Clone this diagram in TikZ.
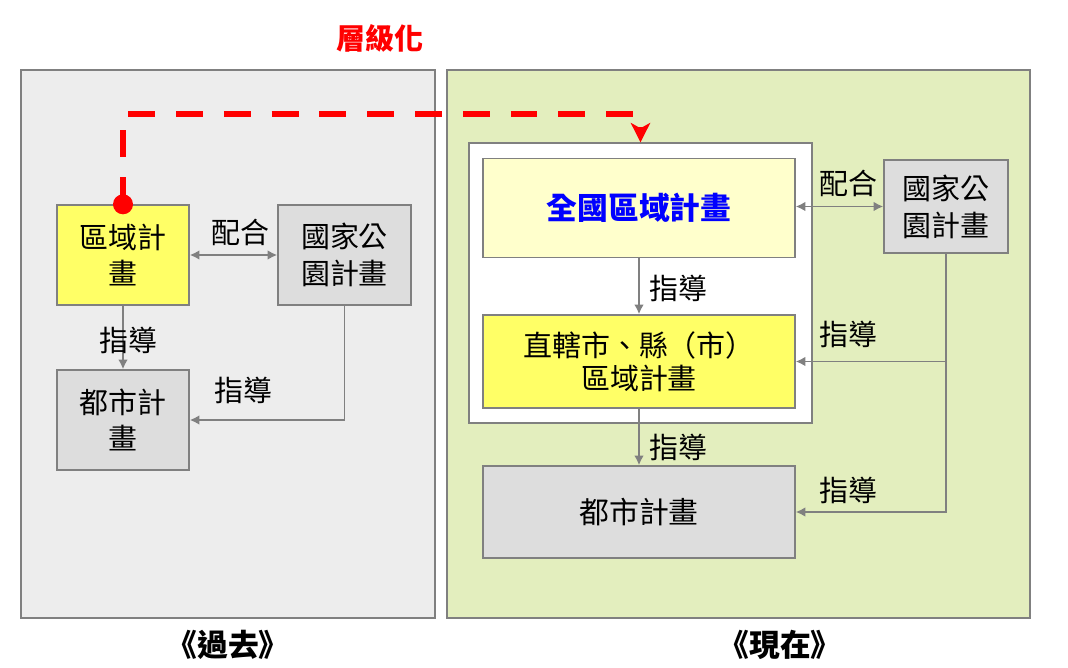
\documentclass[tikz,border=0pt]{standalone}
\usepackage{fontspec}
\setmainfont{Noto Sans CJK TC}
\usetikzlibrary{arrows.meta}
\definecolor{pastgrey}{HTML}{EDEDED}
\definecolor{nowgreen}{HTML}{E3EEBE}
\definecolor{boxgrey}{HTML}{DDDDDD}
\definecolor{boxyellow}{HTML}{FFFF66}
\definecolor{paleyellow}{HTML}{FFFFCC}
\definecolor{linegrey}{HTML}{808080}
\definecolor{hotred}{HTML}{FF0000}
\definecolor{planblue}{HTML}{0000FF}
\tikzset{
  >={Latex[length=5.5pt,width=5.5pt]},
  panel/.style={draw=linegrey, line width=0.8pt, inner sep=0pt},
  plan/.style={draw=linegrey, line width=0.8pt, inner sep=0pt, align=center,
    font=\fontsize{16.5}{21}\selectfont},
  tag/.style={font=\fontsize{16.5}{18}\selectfont, inner sep=1pt},
  era/.style={font=\bfseries\fontsize{17.5}{20}\selectfont},
  link/.style={draw=linegrey, line width=1.1pt},
  hopline/.style={draw=hotred, line width=3.4pt, dash pattern=on 15.3pt off 11.9pt,
    -{Stealth[length=11pt,width=11pt,inset=3pt]}}
}

\begin{document}
\begin{tikzpicture}[x=0.02cm, y=-0.02cm]
  \useasboundingbox (0,0) rectangle (1068,668);
  \node[panel, fill=pastgrey, minimum width=8.28cm, minimum height=10.96cm]
    (past) at (228,344) {};
  \node[panel, fill=nowgreen, minimum width=11.66cm, minimum height=10.96cm]
    (now) at (738.5,344) {};
  \node[panel, fill=white, minimum width=6.86cm, minimum height=5.6cm]
    (frame) at (640.5,283) {};
  \node[text=hotred, font=\bfseries\fontsize{16.5}{20}\selectfont]
    (title) at (380,38) {層級化};

  \node[plan, fill=boxyellow, minimum width=2.64cm, minimum height=2cm]
    (regionL) at (123,255) {區域計\\畫};
  \node[plan, fill=boxgrey, minimum width=2.66cm, minimum height=2cm]
    (parkL) at (344.5,255) {國家公\\園計畫};
  \node[plan, fill=boxgrey, minimum width=2.64cm, minimum height=2cm]
    (cityL) at (123,420) {都市計\\畫};

  \node[plan, fill=paleyellow, minimum width=6.24cm, minimum height=1.98cm,
    text=planblue, font=\bfseries\fontsize{17.5}{20}\selectfont]
    (national) at (639,208) {全國區域計畫};
  \node[plan, fill=boxyellow, minimum width=6.24cm, minimum height=1.86cm,
    font=\fontsize{16.5}{19}\selectfont]
    (county) at (639,361.5) {直轄市、縣（市）\\區域計畫};
  \node[plan, fill=boxgrey, minimum width=6.24cm, minimum height=1.84cm,
    font=\fontsize{17}{20}\selectfont]
    (cityR) at (639,512) {都市計畫};
  \node[plan, fill=boxgrey, minimum width=2.48cm, minimum height=1.86cm]
    (parkR) at (946,206.5) {國家公\\園計畫};

  \draw[link, <->] (regionL) -- (parkL);
  \draw[link, ->] (regionL) -- (cityL);
  \draw[link, ->] (parkL.south) |- (cityL.east);
  \draw[link, <->] (parkR.west -| national.east) -- (parkR.west);
  \draw[link, ->] (national) -- (county);
  \draw[link, ->] (county) -- (cityR);
  \draw[link, ->] (parkR.south) |- (cityR.east);
  \draw[link, ->] (parkR.south |- county.east) -- (county.east);

  \node[tag] (tieL) at (240,232) {配合};
  \node[tag] (guideL) at (128,340) {指導};
  \node[tag] (guideParkL) at (243,390) {指導};
  \node[tag] (tieR) at (848,183) {配合};
  \node[tag] (guideCounty) at (678,288) {指導};
  \node[tag] (guideCity) at (678,447) {指導};
  \node[tag] (guideParkC) at (848,334) {指導};
  \node[tag] (guideParkU) at (848,490) {指導};

  \coordinate (hop) at (640.5,114);
  \draw[hopline] (regionL.north) |- (hop) -- (frame.north);
  \fill[hotred] (regionL.north) circle[radius=0.2cm];

  \node[era] (pastTag) at (228,645) {《過去》};
  \node[era] (nowTag) at (780,645) {《現在》};
\end{tikzpicture}
\end{document}
